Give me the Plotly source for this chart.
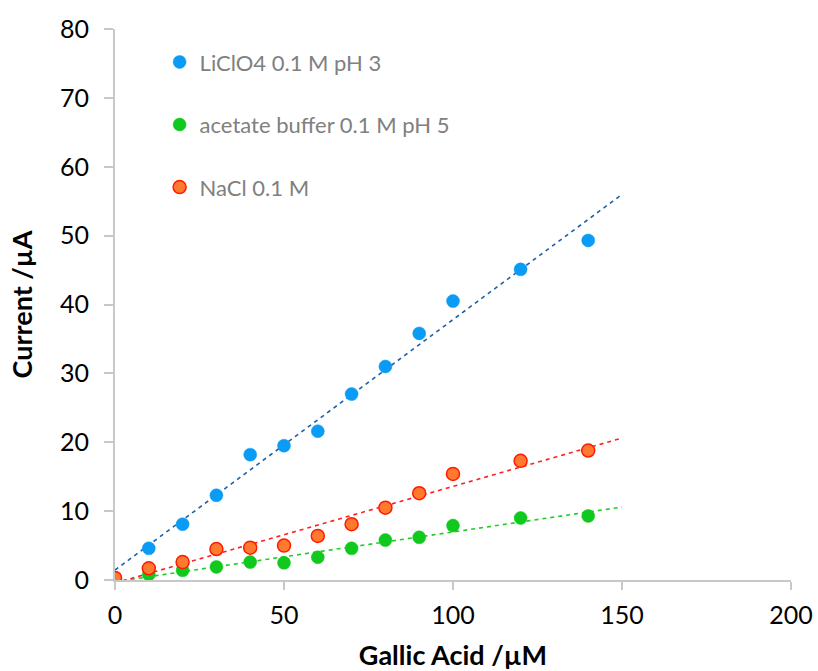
import numpy as np
import plotly.graph_objects as go

conc = [0, 10, 20, 30, 40, 50, 60, 70, 80, 90, 100, 120, 140]
liclo4 = [0.3, 4.6, 8.1, 12.3, 18.2, 19.5, 21.6, 27.0, 31.0, 35.8, 40.5, 45.1, 49.3]
acetate = [0.0, 0.8, 1.4, 1.9, 2.6, 2.5, 3.3, 4.6, 5.8, 6.2, 7.9, 9.0, 9.3]
nacl = [0.3, 1.7, 2.6, 4.5, 4.7, 5.0, 6.4, 8.1, 10.5, 12.6, 15.4, 17.3, 18.8]

names = ["LiClO4 0.1 M pH 3", "acetate buffer 0.1 M pH 5", "NaCl 0.1 M"]
fill_colors = ["#0A9BF5", "#10C81E", "#FF7A2E"]
line_colors = ["#0A9BF5", "#10C81E", "#FF1A00"]
trend_colors = ["#1F5FAA", "#22CC22", "#FF2020"]
trend_end = 150

fig = go.Figure()
series = [liclo4, acetate, nacl]
# trendlines first (behind markers)
for vals, tc in zip(series, trend_colors):
    slope, icpt = np.polyfit(conc, vals, 1)
    xs = [0, trend_end]
    fig.add_trace(go.Scatter(x=xs, y=[icpt + slope * x for x in xs], mode="lines",
                             line=dict(color=tc, width=1.6, dash="4px,4px"),
                             showlegend=False, hoverinfo="skip"))
for i, (vals, nm) in enumerate(zip(series, names)):
    fig.add_trace(go.Scatter(x=conc, y=vals, mode="markers", name=nm,
                             legendgroup=nm,
                             marker=dict(size=13, color=fill_colors[i],
                                         line=dict(color=line_colors[i], width=1.5 if i == 2 else 0.5))))

fig.update_layout(
    width=818, height=671,
    margin=dict(l=115, r=27, t=29, b=91, autoexpand=False),
    plot_bgcolor="white", paper_bgcolor="white",
    font=dict(family="Lato, Liberation Sans, sans-serif", color="black"),
    showlegend=True,
    legend=dict(x=0.066, y=0.978, xanchor="left", yanchor="top",
                font=dict(size=22, color="#808080"),
                tracegroupgap=31, itemsizing="trace", bgcolor="rgba(0,0,0,0)"),
    xaxis=dict(range=[0, 200], tickvals=[0, 50, 100, 150, 200], showgrid=False, zeroline=False,
               automargin=False,
               showline=True, linecolor="#C8C8C8", linewidth=2, ticks="outside", ticklen=8,
               tickcolor="#C8C8C8", tickwidth=1.5, tickfont=dict(size=25),
               ticklabelstandoff=4,
               title=dict(text="<b>Gallic Acid /µM</b>", font=dict(size=27), standoff=22)),
    yaxis=dict(range=[0, 80], tickvals=[0, 10, 20, 30, 40, 50, 60, 70, 80], showgrid=False, zeroline=False,
               automargin=False,
               showline=True, linecolor="#C8C8C8", linewidth=2, ticks="outside", ticklen=9,
               tickcolor="#C8C8C8", tickwidth=1.5, tickfont=dict(size=25),
               ticklabelstandoff=10,
               title=dict(text="<b>Current /µA</b>", font=dict(size=27), standoff=20)),
)
fig.write_html("out.html")
